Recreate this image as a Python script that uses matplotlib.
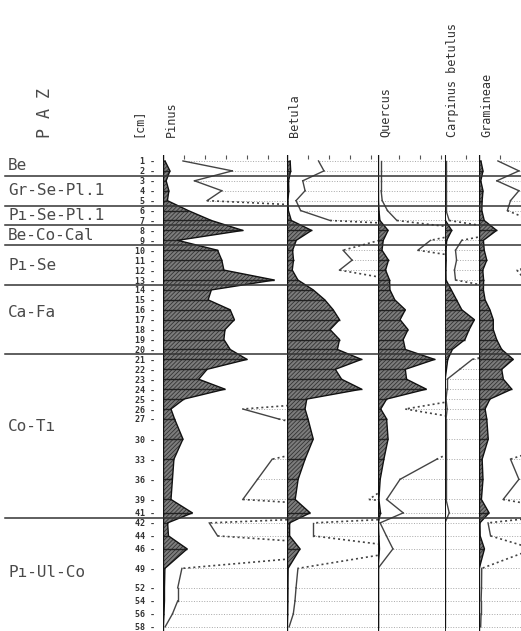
import numpy as np
import matplotlib
matplotlib.use("Agg")
import matplotlib.pyplot as plt

# sample depths [cm]
depths = [1, 2, 3, 4, 5, 6, 7, 8, 9, 10, 11, 12, 13, 14, 15, 16, 17, 18, 19, 20,
          21, 22, 23, 24, 25, 26, 27, 30, 33, 36, 39, 41, 42, 44, 46, 49, 52, 54, 56, 58]

# pollen percentages
pinus = [0.95, 3.3, 1.5, 2.8, 2.1, 12, 23, 38, 7, 26, 28, 29, 53, 23, 21.5, 32, 34, 29.5, 29, 32,
         40, 21, 17, 29.5, 10, 3.8, 5.5, 9.5, 5.2, 4.5, 3.8, 14, 2.2, 2.6, 11.5, 0.9, 0.7, 0.7, 0.45, 0.1]
betula = [1.5, 1.76, 0.75, 0.86, 0.43, 0.65, 2.05, 11.7, 4.4, 2.67, 3.1, 2.5, 5.2, 12.5, 18, 22, 25, 20.5, 25, 24,
          35.5, 23, 26, 35.5, 9.4, 8.6, 10, 12.5, 8.6, 5.3, 3.9, 11, 1.25, 1.25, 6.2, 0.52, 0.43, 0.38, 0.3, 0.1]
quercus = [0.15, 0.15, 0.15, 0.15, 0.2, 0.45, 0.9, 4.8, 2.5, 1.9, 5, 3.6, 5.5, 5.7, 8, 13, 10.5, 14.3, 12, 13,
           27, 13, 13.6, 23, 4.1, 1.3, 4.1, 4.8, 2.8, 1.05, 0.41, 1.2, 0.1, 0.4, 0.71, 0.0, 0.0, 0.0, 0.0, 0.0]
carpinus = [0.05, 0.05, 0.05, 0.05, 0.05, 0.05, 0.2, 3.2, 0.8, 0.5, 0.55, 0.45, 0.5, 3, 5.5, 8, 14, 11.5, 9.5, 3.5,
            1.3, 0.7, 0.1, 0.1, 0.05, 0.1, 0.05, 0.05, 0.05, 0.05, 0.05, 0.2, 0, 0, 0, 0, 0, 0, 0, 0]
gramineae = [0.9, 1.9, 0.85, 1.9, 1.5, 1.35, 2.5, 8.4, 2.1, 2.5, 3.7, 1.8, 2.2, 2.1, 2.9, 5.2, 6.8, 6.8, 8.4, 10.8,
             16.3, 10.8, 11.6, 15.6, 5.2, 2.9, 3.7, 4.4, 1.5, 1.9, 1.15, 4.8, 0.43, 0.55, 2.6, 0.13, 0.12, 0.1, 0.1, 0.08]

taxa = ["Pinus", "Betula", "Quercus", "Carpinus betulus", "Gramineae"]
series = [pinus, betula, quercus, carpinus, gramineae]
exag = 10

zone_bounds = [2.5, 5.5, 7.5, 9.5, 13.5, 20.5, 41.5]
zone_names = ["Be", "Gr-Se-Pl.1", "Pı-Se-Pl.1", "Be-Co-Cal", "Pı-Se", "Ca-Fa", "Co-Tı", "Pı-Ul-Co"]
zone_label_depth = [1.5, 4, 6.5, 8.5, 11.5, 16.3, 28.2, 49.7]

# layout (pixels)
W, H = 521, 631
top_px = 155
lane_px = [163, 287, 378, 445, 479, 521]
px_per_pct = 2.1

# piecewise depth axis (px per cm between breaks)
knot_d = np.array([-50, 27, 41, 42, 200], dtype=float)
rates = np.array([9.92, 6.71, 10.0, 6.5])
knot_p = np.concatenate([[0], np.cumsum(np.diff(knot_d) * rates)])


def fwd(d):
    return np.interp(np.asarray(d, dtype=float), knot_d, knot_p)


def inv(p):
    return np.interp(np.asarray(p, dtype=float), knot_p, knot_d)


mono = "DejaVu Sans Mono"
fig = plt.figure(figsize=(W / 100, H / 100), dpi=100)
h = (H - top_px) / H

axl = fig.add_axes([0, 0, lane_px[0] / W, h])
axl.set_yscale("function", functions=(fwd, inv))
axl.set_ylim(58.63, 0.4)
axl.set_xlim(0, 1)
axl.axis("off")
for z in zone_bounds:
    axl.axhline(z, xmin=5 / lane_px[0], color="#333333", lw=1.1)
for name, d in zip(zone_names, zone_label_depth):
    axl.text(8 / lane_px[0], d, name, family=mono, fontsize=11.5, color="#4a4a4a",
             ha="left", va="center")
axl.annotate("P A Z", xy=(45 / lane_px[0], 1), xycoords="axes fraction", xytext=(0, 12),
             textcoords="offset points", rotation=90, ha="center", va="bottom",
             family=mono, fontsize=12, color="#4a4a4a")
axl.annotate("[cm]", xy=(138 / lane_px[0], 1), xycoords="axes fraction", xytext=(0, 13),
             textcoords="offset points", rotation=90, ha="center", va="bottom",
             family=mono, fontsize=8.5, color="#333333")

plt.rcParams["hatch.linewidth"] = 0.6

for i, (name, vals) in enumerate(zip(taxa, series)):
    x0, x1 = lane_px[i], lane_px[i + 1]
    ax = fig.add_axes([x0 / W, 0, (x1 - x0) / W, h], sharey=axl)
    wmax = (x1 - x0) / px_per_pct
    ax.set_xlim(0, wmax)
    for s in ax.spines.values():
        s.set_visible(False)
    ax.patch.set_alpha(0)

    v = np.array(vals)
    d = np.array(depths, dtype=float)
    ev = v * exag

    # faint sample lines from exaggeration curve to lane edge
    inl = ev <= wmax
    ax.hlines(d[inl], ev[inl], wmax, colors="#a8a8a8", linestyles=":", lw=0.7)

    # exaggeration curve (x10)
    for k in range(len(d) - 1):
        a, b = ev[k], ev[k + 1]
        if a <= wmax and b <= wmax:
            ax.plot([a, b], [d[k], d[k + 1]], color="#444444", lw=1.0)
        elif a <= wmax or b <= wmax:
            ax.plot([a, b], [d[k], d[k + 1]], color="#444444", lw=1.2, ls=(0, (1.2, 1.8)))

    # silhouette
    ax.fill_betweenx(d, 0, v, facecolor="#7c7c7c", edgecolor="#333333", hatch="////////", lw=0)
    ax.hlines(d, 0, v, colors="#222222", lw=1.0)
    ax.plot(v, d, color="#111111", lw=1.0)
    ax.axvline(0, color="#111111", lw=1.7 if i != 3 else 1.3)

    for z in zone_bounds:
        ax.axhline(z, color="#333333", lw=1.1)

    ax.set_xticks(np.arange(0, wmax, 10))
    ax.tick_params(axis="x", top=True, bottom=False, labeltop=False, labelbottom=False,
                   direction="in", length=3, width=0.8, color="#555555")
    if i == 0:
        ax.set_yticks(depths)
        ax.set_yticklabels([f"{dd} -" for dd in depths], family=mono, fontweight="bold",
                           fontsize=6, color="#333333")
        ax.tick_params(axis="y", left=True, length=0, pad=6)
    else:
        ax.tick_params(axis="y", left=False, labelleft=False)

    ax.annotate(name, xy=(0, 1), xycoords=("data", "axes fraction"), xytext=(1, 13),
                textcoords="offset points", rotation=90, ha="left", va="bottom",
                family=mono, fontsize=8.5, color="#333333")

fig.savefig("out.png", dpi=100)
